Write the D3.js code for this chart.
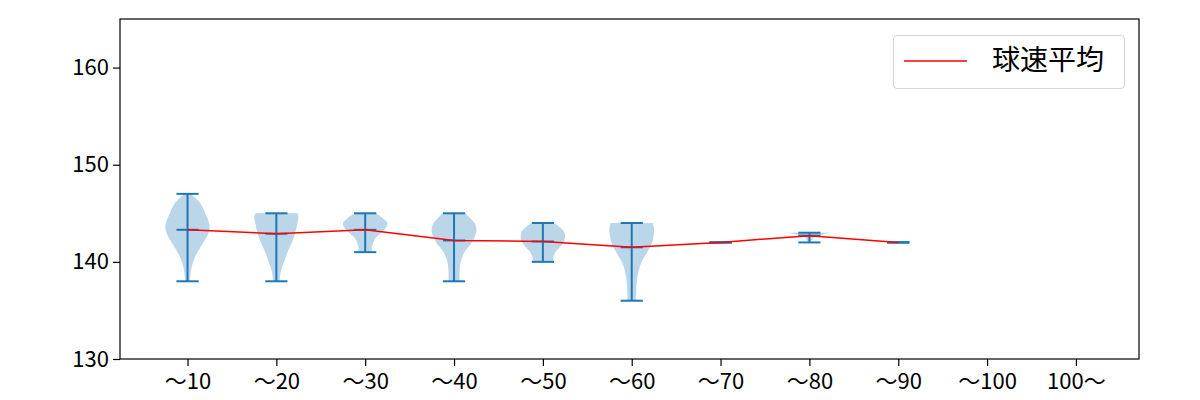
<!DOCTYPE html>
<html>
<head>
<meta charset="utf-8">
<script src="https://cdn.jsdelivr.net/npm/d3@7"></script>
<style>
  body { margin: 0; background: #fff; }
  svg { display: block; font-family: "Noto Sans CJK JP", "Noto Sans", sans-serif; }
</style>
</head>
<body>
<div id="chart"></div>
<script>
// Pitch speed by pitch count: violin per bucket + red mean line
const categories = ['〜10', '〜20', '〜30', '〜40', '〜50', '〜60', '〜70', '〜80', '〜90', '〜100', '100〜'];
const speedMin  = [138, 138, 141, 138, 140, 136, 142, 142, 142, null, null];
const speedMax  = [147, 145, 145, 145, 144, 144, 142, 143, 142, null, null];
const speedMean = [143.3, 142.9, 143.3, 142.2, 142.1, 141.5, 142.0, 142.7, 142.0, null, null];

// violin outline: [speed, relative half width]
const profiles = [
  [[138, 0.1], [139, 0.15], [140, 0.25], [141, 0.45], [142, 0.72], [143, 0.95], [143.6, 1.0], [144, 0.97], [145, 0.8], [146, 0.58], [147, 0.15]],
  [[138, 0.15], [139, 0.2], [140, 0.35], [141, 0.5], [142, 0.7], [143, 0.85], [144, 0.95], [144.6, 1.0], [145, 0.95]],
  [[141, 0.3], [141.5, 0.3], [142, 0.36], [142.5, 0.48], [143, 0.72], [143.5, 0.93], [144, 1.0], [144.5, 0.8], [145, 0.45]],
  [[138, 0.25], [139, 0.25], [140, 0.3], [141, 0.47], [142, 0.8], [143, 1.0], [143.5, 1.0], [144, 0.92], [145, 0.5]],
  [[140, 0.45], [140.5, 0.47], [141, 0.57], [141.5, 0.76], [142, 0.93], [142.5, 1.0], [143, 0.97], [143.5, 0.8], [144, 0.5]],
  [[136, 0.2], [137, 0.2], [138, 0.23], [139, 0.3], [140, 0.45], [141, 0.7], [142, 0.92], [143, 1.0], [143.6, 1.0], [144, 0.95]],
  [],
  [[142, 0.05], [142.5, 0.2], [142.75, 0.5], [143, 1.0]],
  [],
  [],
  []
];

const yTicks = [130, 140, 150, 160];

const width = 1200, height = 400;
const margin = {top: 19, right: 61, bottom: 41, left: 120};

const svg = d3.select('#chart').append('svg')
  .attr('width', width)
  .attr('height', height);

const positions = categories.map((c, i) => i + 1);
const x = d3.scaleLinear().domain([0.24, 11.71]).range([margin.left, width - margin.right]);
const y = d3.scaleLinear().domain([130, 165]).range([height - margin.bottom, margin.top]);

const blue = '#1f77b4';
const halfW = x(1.25) - x(1);   // body half width (widths=0.5)
const capW = x(1.125) - x(1);   // cap line half width

const area = d3.area()
  .y(d => y(d[0]))
  .x0(d => -halfW * d[1])
  .x1(d => halfW * d[1])
  .curve(d3.curveCatmullRom);

// violin bodies
const plot = svg.append('g');
profiles.forEach((prof, i) => {
  if (!prof.length) return;
  plot.append('path')
    .attr('transform', `translate(${x(positions[i])},0)`)
    .attr('d', area(prof))
    .attr('fill', blue)
    .attr('fill-opacity', 0.3);
});

// bars, min/max caps and mean caps
categories.forEach((c, i) => {
  if (speedMin[i] == null) return;
  const cx = x(positions[i]);
  const g = plot.append('g').attr('stroke', blue).attr('stroke-width', 2);
  g.append('line').attr('x1', cx).attr('x2', cx).attr('y1', y(speedMin[i])).attr('y2', y(speedMax[i]));
  [speedMin[i], speedMax[i], speedMean[i]].forEach(v => {
    g.append('line').attr('x1', cx - capW).attr('x2', cx + capW).attr('y1', y(v)).attr('y2', y(v));
  });
});

// mean line
const meanPts = positions.map((p, i) => [p, speedMean[i]]).filter(d => d[1] != null);
svg.append('path')
  .attr('d', d3.line().x(d => x(d[0])).y(d => y(d[1]))(meanPts))
  .attr('fill', 'none')
  .attr('stroke', 'red')
  .attr('stroke-width', 1.5);

// axes
const xAxis = svg.append('g')
  .attr('transform', `translate(0,${height - margin.bottom})`)
  .call(d3.axisBottom(x).tickValues(positions).tickFormat((d, i) => categories[i]).tickSize(7).tickPadding(7));
const yAxis = svg.append('g')
  .attr('transform', `translate(${margin.left},0)`)
  .call(d3.axisLeft(y).tickValues(yTicks).tickSize(7).tickPadding(4));

[xAxis, yAxis].forEach(a => {
  a.select('.domain').remove();
  a.selectAll('line').attr('stroke', '#000').attr('stroke-width', 1.2);
  a.selectAll('text').attr('fill', '#000').style('font-size', '22px')
    .style('font-family', '"Noto Sans CJK JP", sans-serif');
});

// frame
svg.append('rect')
  .attr('x', margin.left).attr('y', margin.top)
  .attr('width', width - margin.left - margin.right)
  .attr('height', height - margin.top - margin.bottom)
  .attr('fill', 'none').attr('stroke', '#000').attr('stroke-width', 1.2);

// legend
const legend = svg.append('g');
legend.append('rect')
  .attr('x', 893.5).attr('y', 35.5).attr('width', 231).attr('height', 53).attr('rx', 4)
  .attr('fill', '#fff').attr('fill-opacity', 0.8)
  .attr('stroke', '#d6d6d6').attr('stroke-width', 1.2);
legend.append('line')
  .attr('x1', 904).attr('x2', 967).attr('y1', 61).attr('y2', 61)
  .attr('stroke', 'red').attr('stroke-width', 1.5);
legend.append('text')
  .attr('x', 992).attr('y', 70)
  .style('font-size', '28px')
  .text('球速平均');
</script>
</body>
</html>
